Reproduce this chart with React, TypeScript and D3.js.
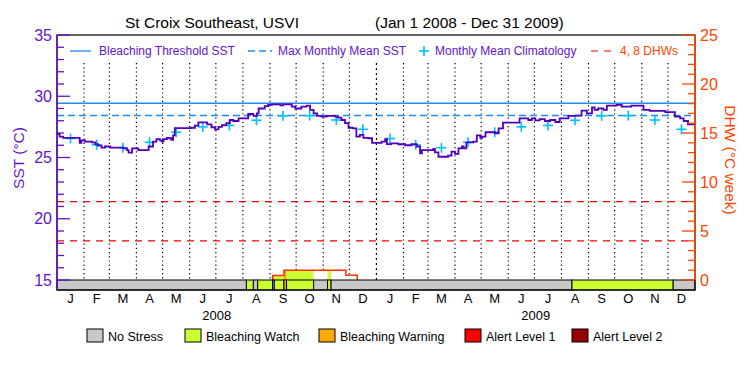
import React from 'react';
import * as d3 from 'd3';

const title1 = 'St Croix Southeast, USVI';
const title2 = '(Jan 1 2008 - Dec 31 2009)';
const monthLetters = ['J', 'F', 'M', 'A', 'M', 'J', 'J', 'A', 'S', 'O', 'N', 'D'];
const years = ['2008', '2009'];
const sstTicks = [15, 20, 25, 30, 35];
const dhwTicks = [0, 5, 10, 15, 20, 25];
const MMM = 28.43;
const bleachingThreshold = 29.43;
const dhwLevels = [4, 8];
const climatology = [26.55, 26.04, 25.8, 26.24, 27.06, 27.5, 27.62, 28.04, 28.4, 28.42, 28.06, 27.3];

const sstDay = [0, 3, 7, 26, 28, 32, 40, 44, 47, 51, 55, 61, 76, 80, 82, 86, 93, 105, 110, 114, 118, 120, 122, 126, 129, 131, 133, 135, 154, 158, 162, 172, 177, 181, 185, 189, 194, 198, 202, 208, 219, 225, 229, 231, 238, 242, 246, 256, 259, 269, 273, 280, 286, 290, 294, 298, 303, 309, 319, 322, 326, 330, 334, 339, 343, 347, 351, 357, 361, 372, 376, 378, 383, 391, 399, 406, 412, 416, 418, 431, 433, 437, 448, 452, 456, 460, 464, 466, 469, 477, 481, 485, 487, 491, 502, 506, 511, 530, 540, 544, 548, 553, 559, 565, 571, 576, 586, 594, 601, 607, 613, 616, 620, 626, 630, 641, 647, 658, 672, 679, 697, 708, 714, 718, 723, 731];
const sstValue = [26.92, 26.7, 26.6, 26.2, 26.4, 26.3, 26.24, 26.08, 25.97, 25.8, 25.9, 25.8, 25.75, 25.6, 25.4, 25.75, 25.6, 25.9, 26.3, 26.5, 26.4, 26.3, 26.5, 26.6, 26.57, 26.45, 26.8, 27.4, 27.43, 27.6, 27.87, 27.7, 27.47, 27.3, 27.5, 27.65, 27.8, 28.06, 27.98, 28.2, 28.55, 28.4, 28.6, 29.0, 29.2, 29.3, 29.34, 29.26, 29.34, 29.15, 29.0, 29.15, 29.23, 28.88, 28.6, 28.4, 28.33, 28.4, 28.33, 28.25, 28.06, 27.8, 27.43, 27.38, 26.7, 26.84, 26.6, 26.57, 26.2, 26.3, 26.5, 26.1, 26.15, 26.08, 26.0, 26.08, 25.9, 25.34, 25.6, 25.7, 25.42, 25.06, 25.15, 25.48, 25.3, 25.75, 25.9, 25.75, 26.24, 26.3, 26.8, 26.6, 26.7, 27.06, 26.98, 27.38, 27.84, 28.2, 28.06, 28.2, 28.03, 28.14, 27.98, 28.06, 27.9, 28.2, 28.4, 28.42, 28.82, 28.6, 29.1, 28.88, 29.0, 28.88, 29.23, 29.3, 29.15, 29.23, 28.88, 28.8, 28.7, 28.33, 28.2, 27.98, 27.7, 27.8];

const stressDay = [0, 217, 225, 230, 247, 249, 260, 263, 294, 310, 314, 590, 706];
const stressLevel = [0, 1, 0, 1, 2, 1, 2, 1, 0, 1, 0, 1, 0];
const dhwDay = [247, 247, 260, 331, 344];
const dhwValue = [0, 0.45, 1.0, 0.48, 0];

const stressNames = ['No Stress', 'Bleaching Watch', 'Bleaching Warning', 'Alert Level 1', 'Alert Level 2'];
const stressColors = ['#C8C8C8', '#CCFF33', '#FFAA00', '#FF0000', '#960000'];

const PURPLE = '#6414C8';
const LINE_PURPLE = '#5000BE';
const ORANGE = '#FF4500';
const BLUE = '#1E8CF0';
const CYAN = '#00BFFF';
const FONT = '"Liberation Sans", Arial, sans-serif';

const W = 750, H = 375;
const X0 = 57, X1 = 695, YT = 35, YB = 280, BARB = 290;
const START = Date.UTC(2008, 0, 1);
const END = Date.UTC(2010, 0, 1);
const TOTAL_DAYS = 731;
const dayToDate = (d: number) => new Date(START + d * 864e5);

export default function App() {
  const x = d3.scaleUtc().domain([new Date(START), new Date(END)]).range([X0, X1]);
  const y = d3.scaleLinear().domain([15, 35]).range([YB, YT]);
  const yd = d3.scaleLinear().domain([0, 25]).range([YB, YT]);

  const months = d3.utcMonth.range(new Date(START), new Date(END));
  const monthEnds = months.map((m) => d3.utcMonth.offset(m, 1));

  const sstPts: [number, number][] = sstDay.map((d, i) => [x(dayToDate(d)), y(sstValue[i])]);
  const sstPath = d3.line().curve(d3.curveStepAfter)(sstPts) || '';

  const dhwPts: [number, number][] = dhwDay.map((d, i) => [x(dayToDate(d)), yd(dhwValue[i])]);
  const dhwPath = d3.line().curve(d3.curveStepAfter)(dhwPts) || '';

  const segs = stressDay.map((d, i) => ({
    s: d,
    e: i < stressDay.length - 1 ? stressDay[i + 1] : TOTAL_DAYS,
    lvl: stressLevel[i],
  }));

  const dhwSteps = dhwDay.slice(1, -1).map((d, i) => ({ s: d, e: dhwDay[i + 2], v: dhwValue[i + 1] }));
  const fills: { x0: number; x1: number; v: number; c: string }[] = [];
  dhwSteps.forEach((st) => {
    segs.forEach((sg) => {
      const a = Math.max(st.s, sg.s), b = Math.min(st.e, sg.e);
      if (b > a) fills.push({ x0: a, x1: b, v: st.v, c: sg.lvl === 0 ? '#FFFFFF' : stressColors[sg.lvl] });
    });
  });

  const legendBoxX = [87, 185, 319, 465, 572];

  return (
    <svg width={W} height={H} style={{ position: 'absolute', left: 0, top: 0, background: '#fff' }} fontFamily={FONT}>
      <rect x={0} y={0} width={W} height={H} fill="#fff" />
      <text x={125} y={28} fontSize={15.5} fill="#000">{title1}</text>
      <text x={375} y={28} fontSize={15.5} fill="#000">{title2}</text>

      {months.slice(1).map((m, i) => {
        const isYear = m.getUTCMonth() === 0;
        return (
          <line key={'g' + i} x1={x(m)} x2={x(m)} y1={63} y2={YB} stroke="#000"
            strokeWidth={1.2} strokeDasharray={isYear ? '2,3' : '1.2,3'} />
        );
      })}

      <line x1={X0} x2={X1} y1={y(bleachingThreshold)} y2={y(bleachingThreshold)} stroke={BLUE} strokeWidth={1.3} />
      <line x1={X0} x2={X1} y1={y(MMM)} y2={y(MMM)} stroke={BLUE} strokeWidth={1.3} strokeDasharray="7,4" />
      {dhwLevels.map((v) => (
        <line key={'d' + v} x1={X0} x2={X1} y1={yd(v)} y2={yd(v)} stroke="#F00000" strokeWidth={1.2} strokeDasharray="7,6" />
      ))}

      {[0, 1].map((yr) =>
        climatology.map((v, mi) => {
          const m = months[yr * 12 + mi];
          const cx = (x(m) + x(monthEnds[yr * 12 + mi])) / 2;
          const cy = y(v);
          return (
            <g key={'c' + yr + '-' + mi} stroke={CYAN} strokeWidth={1.6}>
              <line x1={cx - 5} x2={cx + 5} y1={cy} y2={cy} />
              <line x1={cx} x2={cx} y1={cy - 5} y2={cy + 5} />
            </g>
          );
        })
      )}

      <path d={sstPath} fill="none" stroke={LINE_PURPLE} strokeWidth={1.8} />

      {fills.map((f, i) => (
        <rect key={'f' + i} x={x(dayToDate(f.x0))} width={x(dayToDate(f.x1)) - x(dayToDate(f.x0))}
          y={yd(f.v)} height={YB - yd(f.v)} fill={f.c} />
      ))}
      <path d={dhwPath} fill="none" stroke="#FF3300" strokeWidth={1.5} />

      {segs.map((sg, i) => (
        <rect key={'s' + i} x={x(dayToDate(sg.s))} y={YB} width={x(dayToDate(sg.e)) - x(dayToDate(sg.s))}
          height={BARB - YB} fill={stressColors[sg.lvl]} stroke="#000" strokeWidth={1} />
      ))}

      <rect x={X0} y={YT} width={X1 - X0} height={BARB - YT} fill="none" stroke="#000" strokeWidth={1.2} />

      <line x1={X0} x2={X0} y1={YT} y2={BARB} stroke={PURPLE} strokeWidth={1.5} />
      {d3.range(15, 36).map((v) => (
        <line key={'lt' + v} x1={X0} x2={X0 + (v % 5 === 0 ? 13 : 7)} y1={y(v)} y2={y(v)} stroke={PURPLE} strokeWidth={1.3} />
      ))}
      {sstTicks.map((v) => (
        <text key={'ll' + v} x={52} y={y(v) + 5.5} textAnchor="end" fontSize={16} fill={PURPLE}>{v}</text>
      ))}
      <text transform={`translate(24,158) rotate(-90)`} textAnchor="middle" fontSize={15.5} fill={PURPLE}>SST (°C)</text>

      <line x1={X1} x2={X1} y1={YT} y2={YB} stroke={ORANGE} strokeWidth={1.5} />
      {d3.range(0, 26).map((v) => (
        <line key={'rt' + v} x1={X1} x2={X1 - (v % 5 === 0 ? 13 : 7)} y1={yd(v)} y2={yd(v)} stroke={ORANGE} strokeWidth={1.3} />
      ))}
      {dhwTicks.map((v) => (
        <text key={'rl' + v} x={700} y={yd(v) + 5.5} textAnchor="start" fontSize={16} fill={ORANGE}>{v}</text>
      ))}
      <text transform={`translate(725,160) rotate(90)`} textAnchor="middle" fontSize={15.5} fill={ORANGE}>DHW (°C week)</text>

      {months.map((m, i) => (
        <text key={'m' + i} x={(x(m) + x(monthEnds[i])) / 2} y={303} textAnchor="middle" fontSize={13} fill="#000">
          {monthLetters[m.getUTCMonth()]}
        </text>
      ))}
      {years.map((yr, i) => (
        <text key={'y' + yr} x={(x(months[i * 12]) + x(monthEnds[i * 12 + 11])) / 2} y={320} textAnchor="middle" fontSize={13} fill="#000">
          {yr}
        </text>
      ))}

      <line x1={70} x2={91} y1={51} y2={51} stroke={BLUE} strokeWidth={1.3} />
      <text x={99} y={55} fontSize={12} fill={PURPLE}>Bleaching Threshold SST</text>
      <line x1={248} x2={272} y1={51} y2={51} stroke={BLUE} strokeWidth={1.3} strokeDasharray="7,4" />
      <text x={278} y={55} fontSize={12} fill={PURPLE}>Max Monthly Mean SST</text>
      <g stroke={CYAN} strokeWidth={1.6}>
        <line x1={419} x2={429} y1={51} y2={51} />
        <line x1={424} x2={424} y1={46} y2={56} />
      </g>
      <text x={435} y={55} fontSize={12} fill={PURPLE}>Monthly Mean Climatology</text>
      <line x1={591} x2={613} y1={51} y2={51} stroke="#F00000" strokeWidth={1.2} strokeDasharray="7,6" />
      <text x={620} y={55} fontSize={12} fill={ORANGE}>4, 8 DHWs</text>

      {stressNames.map((n, i) => (
        <g key={'bl' + i}>
          <rect x={legendBoxX[i]} y={329} width={16} height={13} fill={stressColors[i]} stroke="#000" strokeWidth={1} />
          <text x={legendBoxX[i] + 21} y={341} fontSize={12.5} fill="#000">{n}</text>
        </g>
      ))}
    </svg>
  );
}
